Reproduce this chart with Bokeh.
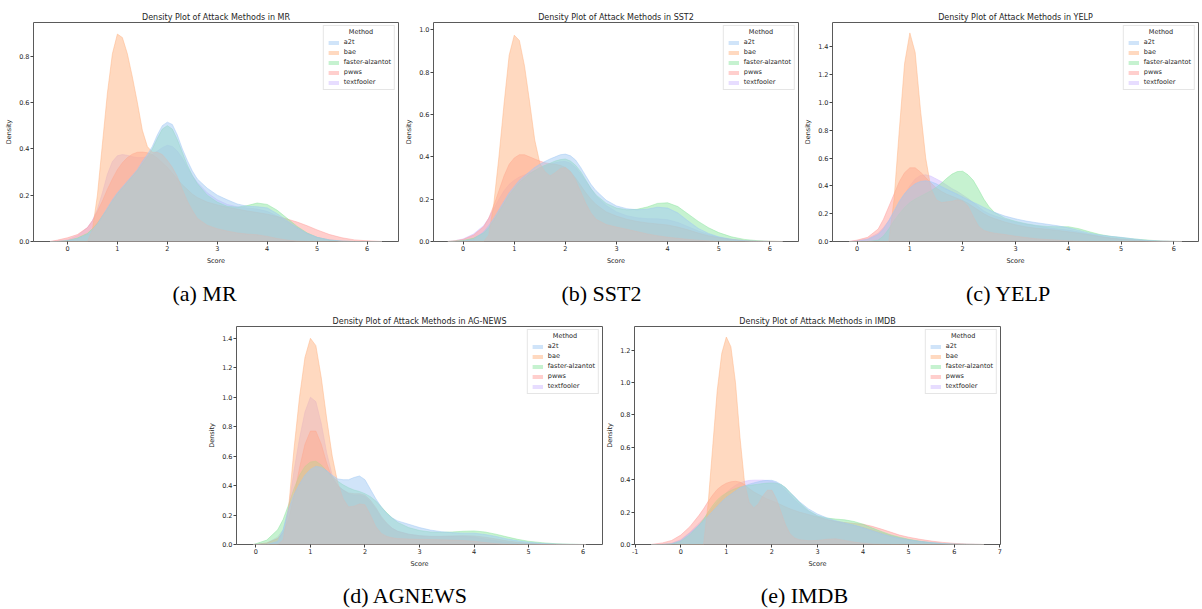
from bokeh.plotting import figure
from bokeh.models import Range1d, Legend, LegendItem, FixedTicker, PrintfTickFormatter, ColumnDataSource, Spacer, Label
from bokeh.layouts import row, column
from bokeh.embed import file_html
from bokeh.resources import INLINE

methods = ["a2t", "bae", "faster-alzantot", "pwws", "textfooler"]
colors = ["#a1c9f4", "#ffb482", "#8de5a1", "#ff9f9b", "#d0bbff"]
draw_order = ["textfooler", "pwws", "faster-alzantot", "bae", "a2t"]

# ---------------- MR ----------------
score_mr = [-0.35, -0.2, 0.0, 0.2, 0.4, 0.5, 0.6, 0.7, 0.8, 0.9, 1.0, 1.1, 1.2, 1.3, 1.4,
            1.5, 1.6, 1.7, 1.8, 1.9, 2.0, 2.1, 2.2, 2.3, 2.4, 2.5, 2.6,
            2.8, 3.0, 3.2, 3.4, 3.6, 3.8, 4.0, 4.2, 4.4, 4.6, 4.8, 5.0, 5.25, 5.5, 5.75, 6.0, 6.3]
a2t_mr = [0, 0, 0.003, 0.012, 0.03,
          0.05, 0.075, 0.11, 0.145, 0.18, 0.21, 0.235, 0.26, 0.285, 0.31,
          0.345, 0.375, 0.41, 0.46, 0.50, 0.515, 0.505, 0.46, 0.40, 0.35, 0.305, 0.27,
          0.23, 0.2, 0.18, 0.162, 0.152, 0.15, 0.145, 0.12, 0.09, 0.06, 0.035, 0.018,
          0.007, 0.002, 0, 0, 0]
bae_mr = [0, 0, 0, 0, 0,
          0.05, 0.2, 0.42, 0.64, 0.81, 0.895, 0.88, 0.81, 0.71, 0.6,
          0.48, 0.41, 0.385, 0.385, 0.375, 0.35, 0.32, 0.28, 0.225, 0.175, 0.135, 0.1,
          0.07, 0.055, 0.045, 0.037, 0.032, 0.029, 0.022, 0.013, 0.006, 0.002, 0, 0,
          0, 0, 0, 0, 0]
faster_mr = [0, 0, 0.004, 0.015, 0.035,
             0.055, 0.08, 0.11, 0.14, 0.175, 0.205, 0.23, 0.255, 0.28, 0.305,
             0.335, 0.365, 0.40, 0.445, 0.485, 0.50, 0.485, 0.44, 0.385, 0.33, 0.285, 0.25,
             0.2, 0.17, 0.152, 0.148, 0.155, 0.166, 0.16, 0.135, 0.1, 0.065, 0.037, 0.018,
             0.006, 0.001, 0, 0, 0]
pwws_mr = [0, 0.006, 0.016, 0.03, 0.06,
           0.09, 0.13, 0.175, 0.225, 0.27, 0.31, 0.34, 0.362, 0.377, 0.385,
           0.386, 0.383, 0.375, 0.36, 0.34, 0.32, 0.295, 0.27, 0.245, 0.225, 0.205, 0.19,
           0.17, 0.158, 0.148, 0.14, 0.132, 0.125, 0.118, 0.108, 0.097, 0.084, 0.068, 0.05,
           0.03, 0.016, 0.007, 0.003, 0]
textfooler_mr = [0, 0.002, 0.008, 0.025, 0.06,
                 0.09, 0.14, 0.21, 0.29, 0.345, 0.37, 0.375, 0.372, 0.366, 0.362,
                 0.362, 0.366, 0.375, 0.39, 0.405, 0.415, 0.41, 0.39, 0.36, 0.32, 0.285, 0.255,
                 0.21, 0.18, 0.16, 0.15, 0.145, 0.14, 0.13, 0.11, 0.085, 0.06, 0.035, 0.018,
                 0.007, 0.002, 0, 0, 0]

# ---------------- SST2 ----------------
score_sst2 = [-0.3, -0.15, 0.0, 0.2, 0.4, 0.5, 0.6, 0.7, 0.8, 0.9, 1.0, 1.1, 1.2, 1.3, 1.4,
              1.5, 1.6, 1.7, 1.8, 1.9, 2.0, 2.1, 2.2, 2.3, 2.4, 2.5, 2.6,
              2.8, 3.0, 3.2, 3.4, 3.6, 3.8, 4.0, 4.2, 4.4, 4.6, 4.8, 5.0, 5.25, 5.5, 5.75, 6.0, 6.25]
a2t_sst2 = [0, 0, 0.002, 0.01, 0.045,
            0.075, 0.11, 0.15, 0.19, 0.23, 0.26, 0.29, 0.31, 0.33, 0.35,
            0.365, 0.378, 0.39, 0.4, 0.41, 0.413, 0.405, 0.385, 0.35, 0.31, 0.27, 0.24,
            0.195, 0.168, 0.155, 0.15, 0.153, 0.162, 0.158, 0.135, 0.097, 0.062, 0.038, 0.022,
            0.01, 0.004, 0.001, 0, 0]
bae_sst2 = [0, 0, 0, 0, 0,
            0.03, 0.18, 0.4, 0.65, 0.88, 0.975, 0.95, 0.83, 0.66, 0.48,
            0.37, 0.33, 0.31, 0.325, 0.345, 0.35, 0.33, 0.29, 0.235, 0.18, 0.135, 0.105,
            0.08, 0.068, 0.058, 0.047, 0.036, 0.027, 0.02, 0.015, 0.01, 0.006, 0.003, 0.001,
            0, 0, 0, 0, 0]
faster_sst2 = [0, 0.002, 0.005, 0.015, 0.04,
               0.065, 0.1, 0.14, 0.18, 0.22, 0.25, 0.28, 0.3, 0.32, 0.335,
               0.35, 0.36, 0.37, 0.38, 0.387, 0.39, 0.38, 0.36, 0.33, 0.29, 0.25, 0.22,
               0.18, 0.158, 0.15, 0.152, 0.163, 0.18, 0.183, 0.165, 0.13, 0.095, 0.065, 0.042,
               0.022, 0.01, 0.004, 0.001, 0]
pwws_sst2 = [0, 0.004, 0.01, 0.03, 0.07,
             0.11, 0.17, 0.24, 0.31, 0.365, 0.395, 0.41, 0.41, 0.4, 0.39,
             0.38, 0.372, 0.368, 0.365, 0.36, 0.35, 0.33, 0.3, 0.265, 0.23, 0.2, 0.175,
             0.14, 0.12, 0.105, 0.095, 0.088, 0.083, 0.078, 0.068, 0.055, 0.04, 0.027, 0.018,
             0.01, 0.005, 0.002, 0.001, 0]
textfooler_sst2 = [0, 0.004, 0.012, 0.035, 0.075,
                   0.11, 0.155, 0.2, 0.24, 0.27, 0.29, 0.305, 0.315, 0.325, 0.335,
                   0.345, 0.355, 0.365, 0.372, 0.377, 0.378, 0.37, 0.35, 0.32, 0.285, 0.25, 0.215,
                   0.17, 0.14, 0.122, 0.112, 0.108, 0.107, 0.103, 0.09, 0.07, 0.05, 0.033, 0.02,
                   0.01, 0.004, 0.001, 0, 0]

# ---------------- YELP ----------------
score_yelp = [-0.15, 0.0, 0.2, 0.4, 0.5, 0.6, 0.7, 0.8, 0.9, 1.0, 1.1, 1.2, 1.3, 1.4,
              1.5, 1.6, 1.7, 1.8, 1.9, 2.0, 2.1, 2.2, 2.3, 2.4, 2.5, 2.6,
              2.8, 3.0, 3.2, 3.4, 3.6, 3.8, 4.0, 4.2, 4.4, 4.6, 4.8, 5.0, 5.25, 5.5, 5.75, 6.0, 6.15]
a2t_yelp = [0, 0.002, 0.015, 0.05,
            0.09, 0.15, 0.22, 0.29, 0.345, 0.385, 0.415, 0.432, 0.437, 0.43,
            0.415, 0.395, 0.375, 0.357, 0.34, 0.32, 0.3, 0.282, 0.265, 0.245, 0.227, 0.21,
            0.183, 0.163, 0.147, 0.135, 0.124, 0.113, 0.098, 0.08, 0.06, 0.046, 0.037, 0.03,
            0.018, 0.008, 0.003, 0.001, 0]
bae_yelp = [0, 0, 0, 0,
            0, 0, 0.3, 0.8, 1.28, 1.5, 1.36, 0.95, 0.6, 0.38,
            0.3, 0.28, 0.285, 0.29, 0.3, 0.29, 0.255, 0.18, 0.11, 0.08, 0.068, 0.06,
            0.05, 0.038, 0.028, 0.019, 0.014, 0.01, 0.005, 0.001, 0, 0, 0, 0,
            0, 0, 0, 0, 0]
faster_yelp = [0, 0, 0, 0.01,
               0.04, 0.09, 0.15, 0.2, 0.245, 0.28, 0.305, 0.325, 0.345, 0.365,
               0.39, 0.42, 0.455, 0.485, 0.503, 0.505, 0.48, 0.44, 0.375, 0.305, 0.25, 0.21,
               0.168, 0.145, 0.128, 0.115, 0.108, 0.106, 0.106, 0.092, 0.07, 0.05, 0.037, 0.028,
               0.018, 0.01, 0.004, 0.001, 0]
pwws_yelp = [0, 0.01, 0.03, 0.09,
             0.16, 0.25, 0.34, 0.43, 0.495, 0.53, 0.53, 0.5, 0.46, 0.42,
             0.385, 0.36, 0.34, 0.325, 0.31, 0.295, 0.275, 0.25, 0.225, 0.2, 0.18, 0.165,
             0.14, 0.12, 0.105, 0.095, 0.088, 0.08, 0.07, 0.06, 0.048, 0.036, 0.025, 0.017,
             0.01, 0.005, 0.002, 0.001, 0]
textfooler_yelp = [0, 0.005, 0.02, 0.06,
                   0.1, 0.15, 0.21, 0.28, 0.34, 0.4, 0.45, 0.475, 0.48, 0.47,
                   0.45, 0.43, 0.405, 0.38, 0.36, 0.335, 0.31, 0.28, 0.25, 0.22, 0.2, 0.185,
                   0.16, 0.14, 0.125, 0.112, 0.1, 0.09, 0.082, 0.068, 0.052, 0.038, 0.026, 0.018,
                   0.01, 0.005, 0.002, 0, 0]

# ---------------- AG-NEWS ----------------
score_ag = [-0.05, 0.0, 0.2, 0.4, 0.5, 0.6, 0.7, 0.8, 0.9, 1.0, 1.1, 1.2, 1.3, 1.4,
            1.5, 1.6, 1.7, 1.8, 1.9, 2.0, 2.1, 2.2, 2.3, 2.4, 2.5, 2.6,
            2.8, 3.0, 3.2, 3.4, 3.6, 3.8, 4.0, 4.2, 4.4, 4.6, 4.8, 5.0, 5.25, 5.5, 5.75, 6.0, 6.05]
a2t_ag = [0, 0, 0, 0.02,
          0.1, 0.24, 0.34, 0.41, 0.47, 0.51, 0.53, 0.525, 0.5, 0.47,
          0.445, 0.44, 0.44, 0.455, 0.465, 0.44, 0.375, 0.31, 0.255, 0.21, 0.18, 0.16,
          0.138, 0.115, 0.098, 0.087, 0.08, 0.077, 0.077, 0.068, 0.055, 0.038, 0.025, 0.015,
          0.007, 0.003, 0.001, 0, 0]
bae_ag = [0, 0, 0, 0,
          0.03, 0.25, 0.65, 1.0, 1.27, 1.4, 1.35, 1.13, 0.85, 0.6,
          0.42, 0.31, 0.255, 0.26, 0.275, 0.27, 0.2, 0.12, 0.075, 0.055, 0.045, 0.04,
          0.037, 0.035, 0.034, 0.032, 0.03, 0.027, 0.022, 0.013, 0.006, 0.002, 0, 0,
          0, 0, 0, 0, 0]
faster_ag = [0, 0.005, 0.03, 0.1,
             0.17, 0.27, 0.38, 0.47, 0.53, 0.56, 0.565, 0.54, 0.5, 0.46,
             0.43, 0.405, 0.385, 0.37, 0.36, 0.345, 0.325, 0.295, 0.255, 0.215, 0.18, 0.15,
             0.115, 0.095, 0.085, 0.083, 0.085, 0.09, 0.092, 0.085, 0.07, 0.052, 0.035, 0.022,
             0.012, 0.005, 0.002, 0, 0]
pwws_ag = [0, 0.002, 0.01, 0.04,
           0.08, 0.17, 0.33, 0.52, 0.68, 0.77, 0.77, 0.68, 0.55, 0.45,
           0.4, 0.37, 0.35, 0.345, 0.345, 0.335, 0.3, 0.25, 0.19, 0.145, 0.11, 0.09,
           0.07, 0.06, 0.055, 0.055, 0.058, 0.06, 0.058, 0.05, 0.038, 0.025, 0.015, 0.008,
           0.003, 0.001, 0, 0, 0]
textfooler_ag = [0, 0.002, 0.01, 0.05,
                 0.1, 0.25, 0.5, 0.72, 0.9, 1.0, 0.97, 0.82, 0.62, 0.47,
                 0.4, 0.37, 0.345, 0.335, 0.335, 0.325, 0.29, 0.24, 0.18, 0.14, 0.11, 0.09,
                 0.07, 0.06, 0.055, 0.055, 0.055, 0.055, 0.05, 0.038, 0.025, 0.014, 0.007, 0.003,
                 0.001, 0, 0, 0, 0]

# ---------------- IMDB ----------------
score_imdb = [-0.65, -0.4, -0.2, 0.0, 0.2, 0.4, 0.5, 0.6, 0.7, 0.8, 0.9, 1.0, 1.1, 1.2, 1.3, 1.4,
              1.5, 1.6, 1.7, 1.8, 1.9, 2.0, 2.1, 2.2, 2.3, 2.4, 2.5, 2.6,
              2.8, 3.0, 3.2, 3.4, 3.6, 3.8, 4.0, 4.2, 4.4, 4.6, 4.8, 5.0, 5.25, 5.5, 5.75, 6.0, 6.25, 6.65]
a2t_imdb = [0, 0, 0.005, 0.025, 0.07, 0.12,
            0.145, 0.175, 0.205, 0.235, 0.265, 0.29, 0.31, 0.33, 0.35, 0.362,
            0.372, 0.38, 0.387, 0.393, 0.396, 0.396, 0.387, 0.37, 0.35, 0.32, 0.295, 0.265,
            0.22, 0.188, 0.165, 0.147, 0.133, 0.12, 0.103, 0.084, 0.066, 0.05, 0.038, 0.028,
            0.019, 0.012, 0.006, 0.003, 0.001, 0]
bae_imdb = [0, 0, 0, 0, 0, 0,
            0, 0.25, 0.6, 0.95, 1.18, 1.28, 1.22, 1.0, 0.66, 0.38,
            0.26, 0.225, 0.25, 0.3, 0.335, 0.335, 0.28, 0.2, 0.12, 0.065, 0.04, 0.03,
            0.023, 0.025, 0.032, 0.035, 0.025, 0.015, 0.008, 0.003, 0.001, 0, 0, 0,
            0, 0, 0, 0, 0, 0]
faster_imdb = [0, 0, 0.003, 0.02, 0.06, 0.12,
               0.155, 0.2, 0.24, 0.275, 0.3, 0.318, 0.333, 0.345, 0.355, 0.36,
               0.365, 0.368, 0.372, 0.376, 0.379, 0.38, 0.378, 0.37, 0.35, 0.32, 0.29, 0.26,
               0.21, 0.178, 0.163, 0.157, 0.152, 0.142, 0.125, 0.102, 0.08, 0.06, 0.045, 0.032,
               0.02, 0.011, 0.005, 0.002, 0.001, 0]
pwws_imdb = [0, 0.01, 0.025, 0.058, 0.11, 0.18,
             0.22, 0.265, 0.305, 0.34, 0.362, 0.378, 0.387, 0.39, 0.385, 0.37,
             0.345, 0.325, 0.31, 0.295, 0.28, 0.27, 0.258, 0.245, 0.232, 0.22, 0.21, 0.2,
             0.185, 0.17, 0.155, 0.143, 0.135, 0.13, 0.125, 0.112, 0.095, 0.077, 0.058, 0.045,
             0.032, 0.021, 0.013, 0.007, 0.003, 0]
textfooler_imdb = [0, 0.002, 0.008, 0.03, 0.075, 0.13,
                   0.16, 0.19, 0.225, 0.26, 0.29, 0.32, 0.345, 0.365, 0.38, 0.39,
                   0.395, 0.397, 0.397, 0.397, 0.395, 0.39, 0.38, 0.36, 0.335, 0.305, 0.275, 0.25,
                   0.205, 0.175, 0.155, 0.14, 0.128, 0.118, 0.105, 0.09, 0.072, 0.055, 0.04, 0.029,
                   0.019, 0.011, 0.006, 0.003, 0.001, 0]

titles = ["Density Plot of Attack Methods in MR", "Density Plot of Attack Methods in SST2",
          "Density Plot of Attack Methods in YELP", "Density Plot of Attack Methods in AG-NEWS",
          "Density Plot of Attack Methods in IMDB"]
captions = ["(a) MR", "(b) SST2", "(c) YELP", "(d) AGNEWS", "(e) IMDB"]
x_ticks_std = [0, 1, 2, 3, 4, 5, 6]
x_ticks_imdb = [-1, 0, 1, 2, 3, 4, 5, 6, 7]
y_ticks_mr = [0.0, 0.2, 0.4, 0.6, 0.8]
y_ticks_sst2 = [0.0, 0.2, 0.4, 0.6, 0.8, 1.0]
y_ticks_14 = [0.0, 0.2, 0.4, 0.6, 0.8, 1.0, 1.2, 1.4]
y_ticks_imdb = [0.0, 0.2, 0.4, 0.6, 0.8, 1.0, 1.2]

TEXT = "#262626"
FONT = "DejaVu Sans"


def panel(title, score, series, xr, yr, xticks, yticks, width, height, bl, br, bt, bb):
    p = figure(width=width, height=height, x_range=Range1d(*xr), y_range=Range1d(*yr),
               output_backend="svg", toolbar_location=None,
               min_border_left=bl, min_border_right=br, min_border_top=bt, min_border_bottom=bb)
    p.title.text = title
    p.title.text_font = FONT
    p.title.text_font_size = "8px"
    p.title.text_font_style = "normal"
    p.title.text_color = TEXT
    p.title.align = "center"
    p.title.standoff = 2
    p.grid.visible = False
    p.outline_line_color = "#5a5a5a"
    p.outline_line_width = 1
    p.background_fill_color = "white"
    p.border_fill_color = "white"
    for ax in (p.xaxis[0], p.yaxis[0]):
        ax.axis_line_color = None
        ax.major_tick_line_color = "#444444"
        ax.major_tick_out = 3
        ax.major_tick_in = 0
        ax.minor_tick_line_color = None
        ax.major_label_text_font = FONT
        ax.major_label_text_font_size = "6.5px"
        ax.major_label_text_color = TEXT
        ax.major_label_standoff = 1
        ax.axis_label_text_font = FONT
        ax.axis_label_text_font_size = "6.5px"
        ax.axis_label_text_font_style = "normal"
        ax.axis_label_text_color = TEXT
        ax.axis_label_standoff = 3
    p.xaxis.axis_label = "Score"
    p.yaxis.axis_label = "Density"
    p.xaxis.ticker = FixedTicker(ticks=xticks)
    p.yaxis.ticker = FixedTicker(ticks=yticks)
    p.xaxis.formatter = PrintfTickFormatter(format="%d")
    p.yaxis.formatter = PrintfTickFormatter(format="%.1f")

    renderers = {}
    for name in draw_order:
        vals = series[name]
        assert len(vals) == len(score), (title, name, len(vals), len(score))
        col = colors[methods.index(name)]
        src = ColumnDataSource(dict(x=score, y=vals))
        r = p.varea(x="x", y1=0, y2="y", source=src, fill_color=col, fill_alpha=0.5)
        p.line(x="x", y="y", source=src, line_color=col, line_alpha=0.6, line_width=0.8)
        renderers[name] = r

    items = [LegendItem(label=m, renderers=[renderers[m]]) for m in methods]
    leg = Legend(items=items, location="top_right", title=" ",
                 label_text_font=FONT, label_text_font_size="6.5px", label_text_color=TEXT,
                 title_text_font=FONT, title_text_font_size="6.5px", title_text_font_style="normal",
                 title_text_color=TEXT, title_standoff=1,
                 glyph_width=13, glyph_height=5, label_height=8, label_standoff=4,
                 spacing=2, padding=3, margin=3,
                 border_line_color="#cccccc", border_line_width=1,
                 background_fill_color=None)
    p.add_layout(leg)

    fw = width - bl - br
    fh = height - bt - bb
    ppx = fw / (xr[1] - xr[0])
    ppy = fh / (yr[1] - yr[0])
    # centred legend title
    p.add_layout(Label(x=xr[1] - 37.5 / ppx, y=yr[1] - 9.5 / ppy, text="Method",
                       text_align="center", text_baseline="middle",
                       text_font=FONT, text_font_size="6.5px", text_color=TEXT))
    return p


def caption_strip(text, width, height, cx, cy):
    c = figure(width=width, height=height, x_range=Range1d(0, width), y_range=Range1d(0, height),
               output_backend="svg", toolbar_location=None, x_axis_type=None, y_axis_type=None,
               min_border_left=0, min_border_right=0, min_border_top=0, min_border_bottom=0)
    c.outline_line_color = None
    c.grid.visible = False
    c.border_fill_color = "white"
    c.background_fill_color = "white"
    c.add_layout(Label(x=cx, y=height - cy, text=text, text_align="center", text_baseline="middle",
                       text_font="Liberation Serif", text_font_size="22px", text_color="black"))
    return c


def ser(a, b, f, pw, t):
    return {"a2t": a, "bae": b, "faster-alzantot": f, "pwws": pw, "textfooler": t}


pa = panel(titles[0], score_mr, ser(a2t_mr, bae_mr, faster_mr, pwws_mr, textfooler_mr),
           (-0.68, 6.63), (0, 0.945), x_ticks_std, y_ticks_mr, 400, 270, 33, 2, 22, 29)
pb = panel(titles[1], score_sst2, ser(a2t_sst2, bae_sst2, faster_sst2, pwws_sst2, textfooler_sst2),
           (-0.58, 6.56), (0, 1.035), x_ticks_std, y_ticks_sst2, 400, 270, 33, 2, 22, 29)
pc = panel(titles[2], score_yelp, ser(a2t_yelp, bae_yelp, faster_yelp, pwws_yelp, textfooler_yelp),
           (-0.465, 6.465), (0, 1.575), x_ticks_std, y_ticks_14, 402, 270, 32, 4, 22, 29)
pd_ = panel(titles[3], score_ag, ser(a2t_ag, bae_ag, faster_ag, pwws_ag, textfooler_ag),
            (-0.355, 6.355), (0, 1.48), x_ticks_std, y_ticks_14, 400, 270, 33, 1, 20, 32)
pe = panel(titles[4], score_imdb, ser(a2t_imdb, bae_imdb, faster_imdb, pwws_imdb, textfooler_imdb),
           (-1.015, 7.015), (0, 1.345), x_ticks_imdb, y_ticks_imdb, 400, 270, 30, 3, 20, 32)

cap_row1 = row(caption_strip(captions[0], 408, 36, 204, 23),
               caption_strip(captions[1], 386, 36, 193, 23),
               Spacer(width=20, height=36),
               caption_strip(captions[2], 388, 36, 194, 23), spacing=0)
cap_row2 = row(Spacer(width=203, height=33),
               caption_strip(captions[3], 404, 33, 202, 19),
               caption_strip(captions[4], 394, 33, 197, 19), spacing=0)

layout = column(row(pa, pb, pc, spacing=0),
                cap_row1,
                row(Spacer(width=203, height=270), pd_, pe, spacing=0),
                cap_row2,
                spacing=0)

open("out.html", "w").write(file_html(layout, INLINE))
